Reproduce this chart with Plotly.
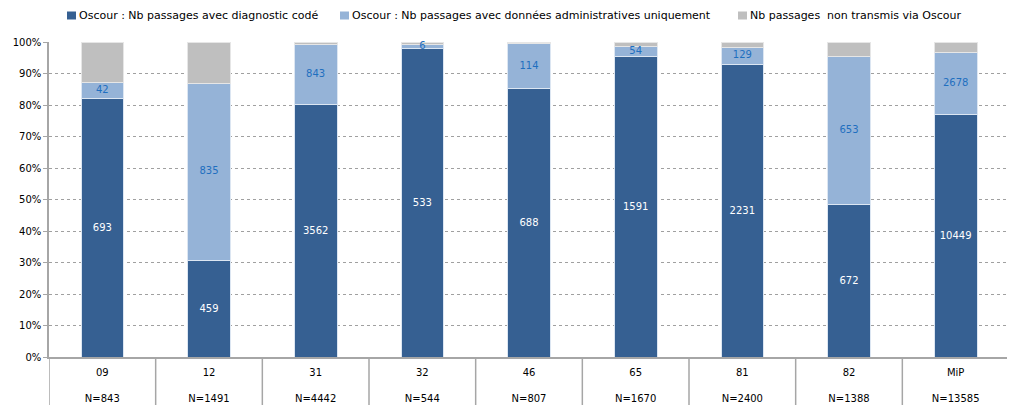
import plotly.graph_objects as go

categories = ["09", "12", "31", "32", "46", "65", "81", "82", "MiP"]
totals = [843, 1491, 4442, 544, 807, 1670, 2400, 1388, 13585]
coded = [693, 459, 3562, 533, 688, 1591, 2231, 672, 10449]
admin = [42, 835, 843, 6, 114, 54, 129, 653, 2678]
not_sent = [t - c - a for t, c, a in zip(totals, coded, admin)]

series_names = [
    "Oscour : Nb passages avec diagnostic codé",
    "Oscour : Nb passages avec données administratives uniquement",
    "Nb passages  non transmis via Oscour",
]
tick_labels = [f"{c}<br><br>N={n}" for c, n in zip(categories, totals)]

dark_blue = "#366092"
light_blue = "#95B3D7"
grey = "#BFBFBF"
colors = [dark_blue, light_blue, grey]
font_family = "DejaVu Sans"

# the page body has an 8px margin, so the figure is shrunk by that much
OFF = 8
W, H = 1015 - OFF, 407 - OFF
L, R, T, B = 41, 6, 34, 50
plot_w = W - L - R
plot_h = H - T - B


def px_x(px):
    # screen pixel -> paper coordinate
    return (px - OFF - L) / plot_w


def px_y(py):
    return 1 - (py - OFF - T) / plot_h


fig = go.Figure()
fig.add_trace(go.Bar(
    x=categories, y=coded, name=series_names[0],
    marker=dict(color=dark_blue, line=dict(color="#DCE6F2", width=1)),
    text=[str(v) for v in coded], texttemplate="%{text}",
    textposition="inside", insidetextanchor="middle", textangle=0,
    constraintext="none",
    textfont=dict(color="white", size=10, family=font_family),
))
fig.add_trace(go.Bar(
    x=categories, y=admin, name=series_names[1],
    marker=dict(color=light_blue, line=dict(color="#DCE6F2", width=1)),
    textposition="none",
))
fig.add_trace(go.Bar(
    x=categories, y=not_sent, name=series_names[2],
    marker=dict(color=grey, line=dict(color="#E6E6E6", width=1)),
    textposition="none",
))
# admin labels drawn on top of every bar so small segments stay readable
admin_mid = [(c + a / 2) / t * 100 for c, a, t in zip(coded, admin, totals)]
fig.add_trace(go.Scatter(
    x=categories, y=admin_mid, mode="text", text=[str(v) for v in admin],
    textposition="middle center", cliponaxis=False, hoverinfo="skip",
    textfont=dict(color="#1F6FBF", size=10, family=font_family),
))

# boxes under the axis around each category label
shapes = []
for i in range(len(categories) + 1):
    shapes.append(dict(type="line", xref="x", yref="paper",
                       x0=i - 0.5, x1=i - 0.5, y0=0, y1=-48 / plot_h,
                       line=dict(color="#A6A6A6", width=1.5)))

# hand-made legend, tight like the original
legend_x = [67, 340, 738]
annotations = []
for x0, name, col in zip(legend_x, series_names, colors):
    shapes.append(dict(type="rect", xref="paper", yref="paper",
                       x0=px_x(x0), x1=px_x(x0 + 9), y0=px_y(19.5), y1=px_y(11.5),
                       fillcolor=col, line=dict(width=0)))
    annotations.append(dict(xref="paper", yref="paper", x=px_x(x0 + 10), y=px_y(15.5),
                            xanchor="left", yanchor="middle", showarrow=False,
                            text=name, font=dict(size=11, family=font_family)))

fig.update_layout(
    barmode="stack", barnorm="percent", bargap=0.6,
    width=W, height=H,
    margin=dict(l=L, r=R, t=T, b=B, autoexpand=False),
    plot_bgcolor="white", paper_bgcolor="white",
    font=dict(family=font_family, size=10, color="#000000"),
    shapes=shapes, annotations=annotations,
    showlegend=False,
)
fig.update_xaxes(
    tickmode="array", tickvals=categories, ticktext=tick_labels,
    showline=True, linecolor="#A6A6A6", linewidth=1.5,
    ticks="", ticklabelstandoff=5, tickfont=dict(size=10),
    range=[-0.5, len(categories) - 0.5],
)
fig.update_yaxes(
    range=[0, 100], dtick=10, ticksuffix="%",
    showgrid=True, gridcolor="#A0A0A0", griddash="dot", gridwidth=1,
    showline=True, linecolor="#A6A6A6", linewidth=1.5,
    ticks="outside", ticklen=4, tickcolor="#A6A6A6",
    tickfont=dict(size=10), zeroline=False,
)

fig.write_html("out.html")
